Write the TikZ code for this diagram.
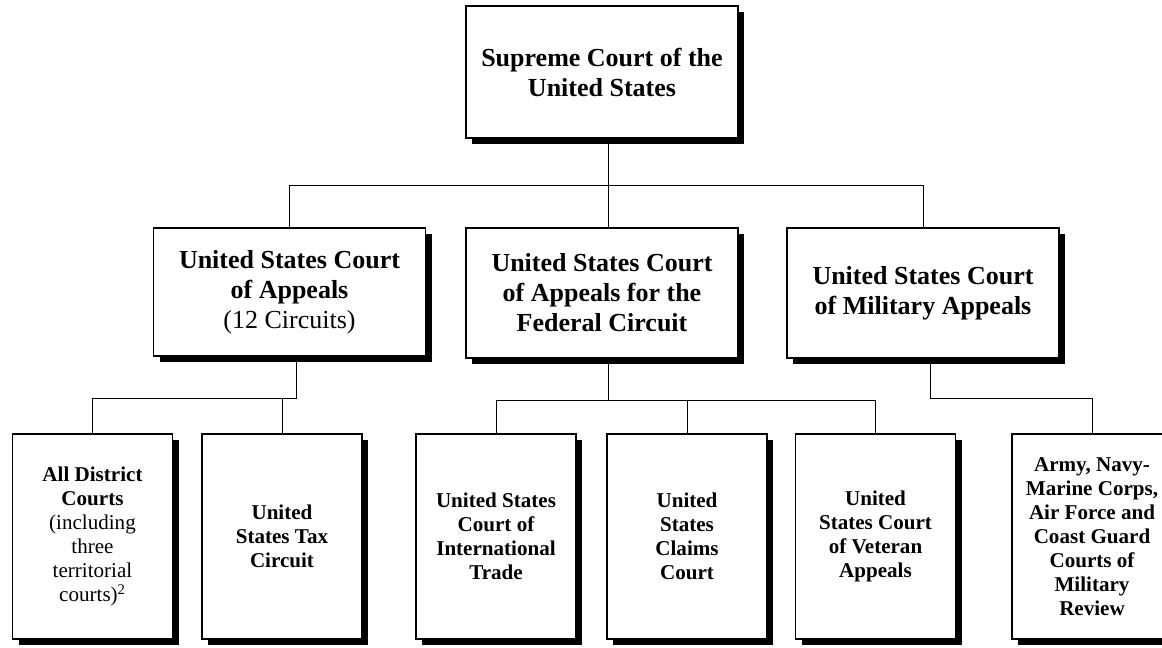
\documentclass[tikz,border=0pt]{standalone}
\usepackage{fontspec}
\setmainfont{Liberation Serif}
\usetikzlibrary{shadows}

\tikzset{
  court/.style={draw,line width=0.8pt,fill=white,inner sep=0pt,align=center,
    drop shadow={shadow xshift=4.5pt,shadow yshift=-4.5pt,fill=black,opacity=1}},
  bigbox/.style={court,minimum width=204pt,minimum height=97.5pt,
    font=\fontsize{19.5}{22.5}\selectfont\bfseries},
  smallbox/.style={court,minimum width=120pt,minimum height=153.75pt,
    font=\fontsize{15.8}{18}\selectfont\bfseries},
  link/.style={line width=0.7pt}
}

\begin{document}
\begin{tikzpicture}[x=0.75pt,y=-0.75pt]
%Alle Werte in Pixel des Vorbilds, y nach unten
  \pgfmathsetmacro{\yMitte}{293}
  \pgfmathsetmacro{\yUnten}{536.5}
\useasboundingbox (0,0) rectangle (1162,648);

\node[bigbox,minimum height=99pt] (sup) at (602,72) {Supreme Court of the\\United States};

\node[bigbox,minimum height=96pt] (app) at (289.5,292) {United States Court\\of Appeals\\\mdseries (12 Circuits)};
\node[bigbox] (fed) at (602,\yMitte) {United States Court\\of Appeals for the\\Federal Circuit};
\node[bigbox] (mil) at (923,\yMitte) {United States Court\\of Military Appeals};

\node[smallbox] (dist) at (92.5,\yUnten) {All District\\Courts\\\mdseries (including\\\mdseries three\\\mdseries territorial\\\mdseries courts)\textsuperscript{2}};
\node[smallbox] (tax) at (282,\yUnten) {United\\States Tax\\Circuit};
\node[smallbox] (trade) at (496,\yUnten) {United States\\Court of\\International\\Trade};
\node[smallbox] (claims) at (687,\yUnten) {United\\States\\Claims\\Court};
\node[smallbox] (vet) at (875.5,\yUnten) {United\\States Court\\of Veteran\\Appeals};
\node[smallbox] (rev) at (1092,\yUnten) {Army, Navy-\\Marine Corps,\\Air Force and\\Coast Guard\\Courts of\\Military\\Review};

%Verbindungen
\draw[link] ([xshift=4.5pt]sup.south) -- ([xshift=4.5pt]fed.north);
\draw[link] (app.north) -- ++(0,-42) -| (mil.north);

\coordinate (appj) at ([xshift=5.25pt,yshift=-31.5pt]app.south);
\coordinate (fedj) at ([xshift=4.5pt,yshift=-31.5pt]fed.south);
\coordinate (milj) at ([xshift=5.25pt,yshift=-30pt]mil.south);

\draw[link] ([xshift=5.25pt]app.south) -- (appj) -| (dist.north);
\draw[link] (appj) -| (tax.north);
\draw[link] ([xshift=4.5pt]fed.south) -- (fedj);
\draw[link] (trade.north) |- (fedj) -| (vet.north);
\draw[link] (claims.north) -- (claims.north |- fedj);
\draw[link] ([xshift=5.25pt]mil.south) -- (milj) -| (rev.north);
\end{tikzpicture}
\end{document}
